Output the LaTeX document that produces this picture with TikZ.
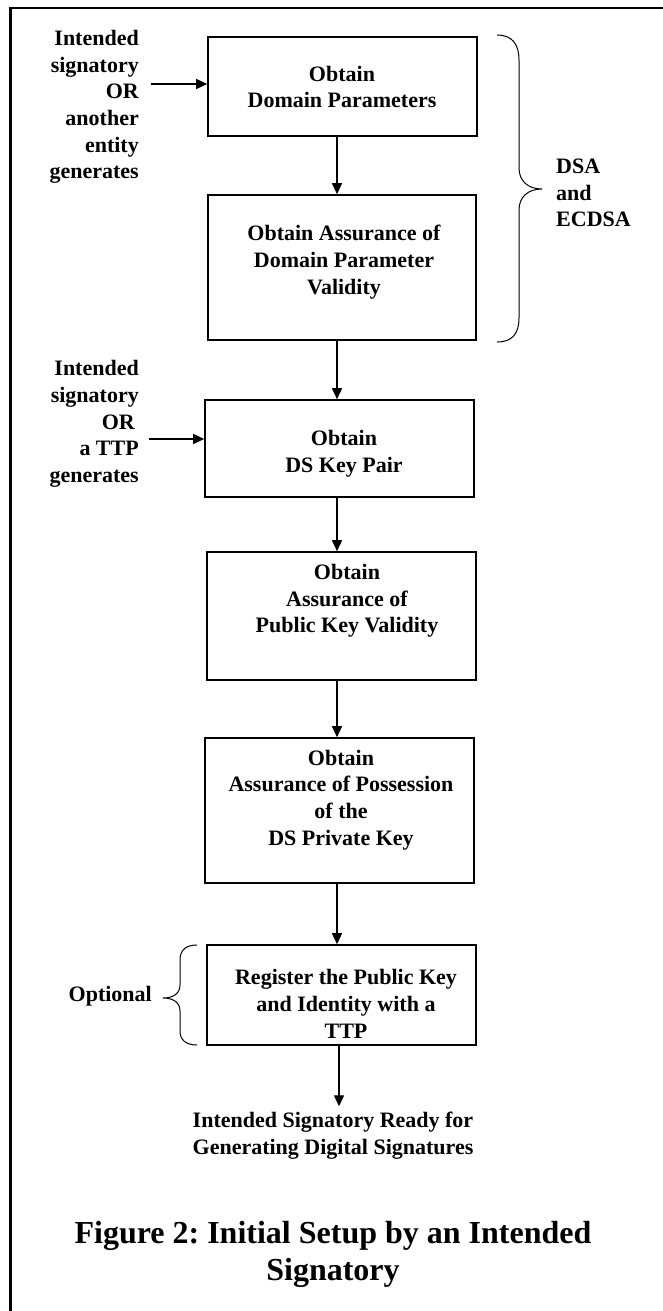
\documentclass[tikz,border=0pt]{standalone}
\usepackage{fontspec}
\setmainfont{Liberation Serif}
\usetikzlibrary{arrows.meta}
\frenchspacing
\tikzset{
  boxnode/.style={draw=black, line width=1.6pt, minimum width=#1},
  boxnode/.default=269pt,
  txt/.style={font=\fontsize{22}{26.7}\selectfont\bfseries, align=center, inner sep=0pt},
  ltxt/.style={font=\fontsize{22}{26.7}\selectfont\bfseries, align=right, inner sep=0pt, anchor=east},
  rtxt/.style={font=\fontsize{22}{26.7}\selectfont\bfseries, align=left, inner sep=0pt, anchor=west},
  arr/.style={line width=1.4pt, -{Triangle[length=11pt,width=10pt]}},
  brc/.style={line width=1pt},
}
\begin{document}
\begin{tikzpicture}[x=1pt,y=-1pt]
\useasboundingbox (0,0) rectangle (663,1311);
% frame
\draw[line width=2.2pt] (10.5,1311) -- (10.5,8) -- (663,8);

% boxes
\node[boxnode, minimum height=99pt]  (b1) at (342.5,86.5) {};
\node[boxnode=268pt, minimum height=145pt] (b2) at (342,267.5) {};
\node[boxnode, minimum height=97pt]  (b3) at (339.5,448.5) {};
\node[boxnode, minimum height=128pt] (b4) at (341.5,616) {};
\node[boxnode, minimum height=145pt] (b5) at (339.5,810.5) {};
\node[boxnode, minimum height=100pt] (b6) at (341.5,995) {};

% box texts
\node[txt] (t1) at (342,87) {Obtain\\Domain Parameters};
\node[txt] (t2) at (344,262) {Obtain Assurance of\\Domain Parameter\\Validity};
\node[txt] (t3) at (344,454) {Obtain\\DS Key Pair};
\node[txt] (t4) at (347,601) {Obtain\\Assurance of\\Public Key Validity};
\node[txt] (t5) at (341,800) {Obtain\\Assurance of Possession\\of the\\DS Private Key};
\node[txt] (t6) at (346,1004) {Register the Public Key\\and Identity with a\\TTP};

% vertical arrows
\coordinate (xc) at (337,0);
\draw[arr] (b1.south -| xc) -- (b2.north -| xc);
\draw[arr] (b2.south -| xc) -- (b3.north -| xc);
\draw[arr] (b3.south -| xc) -- (b4.north -| xc);
\draw[arr] (b4.south -| xc) -- (b5.north -| xc);
\draw[arr] (b5.south -| xc) -- (b6.north -| xc);

% final text
\node[txt] (fin) at (333,1136) {Intended Signatory Ready for\\Generating Digital Signatures};
\coordinate (xf) at (339,0);
\draw[arr] (b6.south -| xf) -- ([yshift=6pt]fin.north -| xf);

% left inputs
\node[ltxt] (s1) at (139,107) {Intended\\signatory\\OR\\another\\entity\\generates};
\coordinate (a1) at (151,84);
\draw[arr] (a1) -- (a1 -| b1.west);

\node[ltxt] (s2) at (139,424) {Intended\\signatory\\OR\kern4pt\\a TTP\\generates};
\coordinate (a2) at (149,439);
\draw[arr] (a2) -- (a2 -| b3.west);

% right brace DSA and ECDSA
\draw[brc] (497,35) .. controls (512,35) and (519,44) .. (519,60)
  -- (519,168) .. controls (519,181) and (528,189) .. (542,189)
  .. controls (528,189) and (519,197) .. (519,210)
  -- (519,318) .. controls (519,334) and (512,342) .. (497,342);
\node[rtxt] (dsa) at (556,193) {DSA\\and\\ECDSA};

% optional brace
\draw[brc] (197,945) .. controls (186,945) and (180,950) .. (180,960)
  -- (180,985) .. controls (180,993) and (174,998) .. (163,998)
  .. controls (174,998) and (180,1003) .. (180,1011)
  -- (180,1031) .. controls (180,1040) and (186,1045) .. (197,1045);
\node[ltxt] (opt) at (152,996) {Optional};

% caption
\node[font=\fontsize{32}{37}\selectfont\bfseries, align=center, inner sep=0pt] (cap) at (333,1254) {Figure 2: Initial Setup by an Intended\\Signatory};
\end{tikzpicture}
\end{document}
